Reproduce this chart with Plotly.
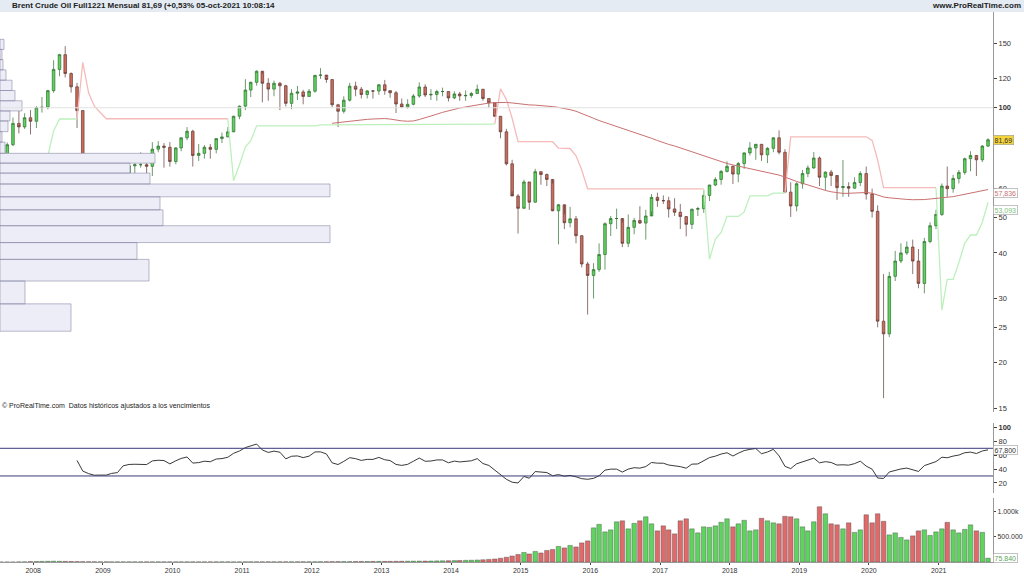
import plotly.graph_objects as go
import pandas as pd
import numpy as np

start = "2007-08-01"
first_open = 76.0
closes = [72.7, 79.2, 90.6, 88.6, 93.9,
 91.8, 100.1, 100.3, 111.4, 127.4, 139.8, 124.1, 114.1, 98.2, 65.3, 53.5, 45.6,
 45.9, 45.7, 49.2, 50.8, 65.9, 69.3, 69.8, 69.8, 69.1, 77.0, 78.5, 77.9,
 71.2, 77.6, 82.7, 86.2, 74.0, 75.0, 77.9, 76.9, 82.3, 83.2, 85.9, 94.8,
 101.0, 111.8, 117.4, 125.9, 116.7, 112.5, 116.7, 114.9, 102.8, 109.6, 110.5, 107.4,
 111.0, 122.7, 122.9, 119.5, 101.9, 97.8, 104.9, 114.6, 112.4, 108.7, 111.2, 111.1,
 115.6, 111.4, 109.9, 102.4, 100.4, 102.2, 107.7, 114.0, 108.4, 108.8, 110.8, 110.8,
 106.4, 109.1, 107.8, 108.1, 109.4, 112.4, 106.0, 103.2, 94.7, 85.9, 70.2, 57.3,
 53.0, 62.6, 55.1, 66.8, 65.6, 63.6, 52.2, 54.2, 48.4, 49.6, 44.6, 37.3,
 34.7, 36.0, 39.6, 48.1, 49.7, 49.7, 42.5, 47.0, 49.1, 48.3, 50.5, 56.8,
 55.7, 55.6, 52.8, 51.7, 50.3, 47.9, 52.7, 52.9, 57.5, 61.4, 63.6, 66.9,
 69.1, 65.8, 70.3, 75.2, 77.6, 79.4, 74.3, 77.4, 82.7, 75.5, 58.7, 53.8,
 61.9, 66.0, 68.4, 72.8, 64.5, 66.6, 65.2, 60.4, 60.8, 60.2, 62.4, 66.0,
 58.0, 52.0, 26.0, 24.0, 34.5, 38.0, 40.0, 41.5, 38.0, 33.0, 43.0, 47.5,
 51.0, 61.0, 60.0, 64.0, 66.5, 72.5, 74.0, 72.0, 78.5, 81.69]
highs = [75.5, 80.3, 94.0, 98.6, 96.6,
 98.5, 101.0, 107.0, 112.0, 135.0, 140.5, 147.5, 125.0, 117.0, 98.5, 64.5, 56.5,
 50.0, 48.0, 54.0, 54.5, 66.5, 73.5, 72.5, 75.5, 72.5, 80.5, 81.0, 80.0,
 80.5, 78.0, 83.0, 88.5, 87.0, 79.5, 79.0, 79.5, 82.5, 85.5, 88.5, 95.0,
 101.5, 119.8, 117.9, 126.7, 123.9, 120.5, 118.7, 117.7, 115.6, 112.4, 114.8, 112.0,
 112.5, 123.0, 128.4, 121.5, 119.5, 102.5, 107.5, 117.0, 117.9, 114.0, 111.8, 111.8,
 116.0, 119.2, 111.0, 111.2, 106.0, 105.5, 109.0, 117.3, 116.0, 112.5, 112.0, 113.5,
 110.5, 111.0, 110.5, 111.5, 110.5, 115.7, 112.5, 106.0, 103.0, 95.0, 87.5, 72.0,
 58.0, 63.5, 62.5, 68.0, 67.0, 66.0, 62.0, 54.5, 51.0, 53.5, 50.5, 44.5,
 37.8, 37.5, 42.5, 48.5, 50.5, 52.9, 48.5, 51.0, 49.9, 53.7, 52.5, 58.0,
 58.5, 57.5, 57.0, 56.5, 54.5, 50.5, 52.9, 53.5, 59.5, 61.5, 64.5, 67.5,
 71.3, 69.5, 71.0, 75.5, 80.5, 79.5, 79.5, 78.0, 83.0, 86.7, 77.0, 62.5,
 62.5, 67.5, 69.5, 75.6, 73.5, 66.9, 67.5, 62.5, 71.9, 62.5, 64.5, 67.0,
 69.0, 60.0, 54.0, 35.0, 35.5, 40.5, 42.5, 43.0, 43.5, 41.0, 44.0, 48.5,
 52.5, 62.0, 69.0, 65.5, 67.5, 73.0, 76.0, 73.5, 79.0, 82.5]
lows = [67.0, 70.5, 78.5, 85.0, 87.5,
 84.5, 88.0, 97.0, 99.0, 110.0, 122.0, 121.0, 110.0, 88.0, 60.0, 47.0, 36.2,
 39.5, 39.0, 40.0, 47.5, 50.0, 64.5, 62.5, 68.5, 65.5, 65.0, 75.5, 68.5,
 69.0, 70.0, 76.0, 81.5, 69.0, 71.5, 72.5, 72.5, 75.0, 80.0, 83.0, 86.5,
 93.0, 98.5, 107.0, 115.0, 103.5, 104.5, 107.5, 98.5, 100.8, 99.0, 105.0, 102.2,
 107.5, 110.0, 120.0, 117.0, 100.5, 88.5, 96.5, 104.0, 107.5, 106.0, 106.0, 106.0,
 108.5, 108.5, 106.5, 96.7, 100.0, 99.5, 101.5, 106.5, 107.0, 105.0, 104.5, 107.5,
 104.0, 105.5, 104.5, 104.5, 106.5, 109.0, 104.5, 100.0, 94.5, 82.5, 69.5, 59.0,
 45.2, 53.5, 52.5, 55.0, 61.5, 61.0, 52.0, 42.2, 46.5, 47.0, 42.5, 36.5,
 27.1, 30.0, 35.5, 36.0, 44.5, 46.5, 41.5, 41.5, 45.0, 48.0, 43.5, 52.0,
 53.5, 54.5, 50.0, 50.5, 46.5, 44.4, 46.5, 50.5, 51.5, 55.5, 61.0, 61.5,
 66.5, 61.8, 62.5, 68.0, 74.0, 72.0, 71.5, 70.5, 75.5, 74.5, 58.5, 50.2,
 52.0, 60.0, 64.5, 68.0, 61.0, 59.5, 61.0, 55.9, 57.0, 57.0, 60.0, 61.0,
 56.0, 50.0, 25.0, 16.0, 23.5, 33.5, 37.5, 39.5, 35.0, 32.0, 31.0, 42.5,
 46.5, 50.5, 57.0, 58.5, 62.0, 65.5, 67.0, 65.0, 71.0, 78.0]
volumes_k = [0, 0, 0, 2, 3,
 8, 10, 12, 14, 16, 14, 12, 10, 8, 6, 5, 5,
 4, 4, 3, 3, 3, 3, 3, 3, 3, 3, 3, 3,
 3, 3, 3, 3, 3, 3, 3, 3, 3, 3, 3, 3,
 3, 4, 4, 4, 4, 4, 4, 4, 4, 4, 5, 5,
 5, 5, 6, 6, 7, 7, 8, 8, 9, 10, 10, 11,
 12, 12, 13, 14, 15, 16, 17, 18, 19, 20, 22, 24,
 26, 28, 30, 33, 36, 40, 45, 52, 60, 75, 95, 120,
 150, 190, 160, 210, 180, 230, 250, 310, 280, 330, 300, 380,
 420, 680, 750, 600, 640, 800, 820, 660, 770, 820, 900, 760,
 620, 720, 640, 560, 820, 860, 660, 580, 700, 690, 720, 790,
 860, 700, 760, 830, 620, 640, 870, 820, 780, 760, 910, 900,
 860, 700, 620, 800, 1100, 960, 760, 740, 660, 780, 590, 640,
 940, 780, 960, 810, 540, 580, 490, 440, 520, 620, 640, 530,
 600, 660, 790, 640, 580, 650, 740, 620, 590, 76]
prof_lo = [24.4, 29.0, 33.5, 38.4, 42.7, 47.5, 52.5, 57.0, 61.8, 66.2, 70.5,
           75.0, 80.5, 86.0, 92.0, 98.0, 104.5, 111.5, 119.0, 127.0, 135.5, 144.5]
prof_hi = [29.0, 33.5, 38.4, 42.7, 47.5, 52.5, 57.0, 61.8, 66.2, 70.5, 75.0,
           80.5, 86.0, 92.0, 98.0, 104.5, 111.5, 119.0, 127.0, 135.5, 144.5, 154.0]
prof_w = [71, 25, 149, 137, 330, 163, 160, 330, 150, 130, 155,
          5, 2, 8, 10, 22, 15, 12, 6, 3, 2, 4]
years = list(range(2008, 2022))
last_labels = ["81,69", "57,836", "53,093", "67,800", "75.840"]
last_values = [81.69, 57.836, 53.093, 67.8, 75840]

dates = pd.date_range(start, periods=len(closes), freq="MS")
c = np.array(closes); h = np.array(highs); l = np.array(lows)
o = np.concatenate([[first_open], c[:-1]])
up = c >= o

tr = np.maximum(h - l, np.maximum(abs(h - np.roll(c, 1)), abs(l - np.roll(c, 1)))); tr[0] = h[0]-l[0]
atr = np.zeros(len(c)); atr[0] = tr[0]
for i in range(1, len(c)):
    atr[i] = (atr[i-1]*9 + tr[i]) / 10
hl2 = (h + l) / 2
ub = hl2 + 3.0*atr; lb = hl2 - 3.0*atr
fu = ub.copy(); fl = lb.copy(); trend = np.ones(len(c))
for i in range(1, len(c)):
    fu[i] = ub[i] if (ub[i] < fu[i-1] or c[i-1] > fu[i-1]) else fu[i-1]
    fl[i] = lb[i] if (lb[i] > fl[i-1] or c[i-1] < fl[i-1]) else fl[i-1]
    if trend[i-1] == 1 and c[i] < fl[i]: trend[i] = -1
    elif trend[i-1] == -1 and c[i] > fu[i]: trend[i] = 1
    else: trend[i] = trend[i-1]
st = np.where(trend == 1, fl, fu)
stu = [st[i] if (trend[i] == -1 or (i+1 < len(c) and trend[i+1] == -1)) else None for i in range(len(c))]
stl = [st[i] if (trend[i] == 1 or (i+1 < len(c) and trend[i+1] == 1)) else None for i in range(len(c))]

sma = pd.Series(c).rolling(58).mean()
d = np.diff(c, prepend=c[0]); g = np.clip(d, 0, None); ls = np.clip(-d, 0, None)
ag = pd.Series(g).ewm(alpha=1/14, adjust=False).mean(); al = pd.Series(ls).ewm(alpha=1/14, adjust=False).mean()
rsi = (100 - 100/(1 + ag/al)).values; rsi[:13] = np.nan

fig = go.Figure()
px, py = [], []
for lo_, hi_, w in zip(prof_lo, prof_hi, prof_w):
    px += [0, w, w, 0, 0, None]; py += [lo_, lo_, hi_, hi_, lo_, None]
fig.add_trace(go.Scatter(x=px, y=py, xaxis="x4", yaxis="y", fill="toself", fillcolor="#ededf7",
                         line=dict(color="#8a8aa8", width=0.6), mode="lines", hoverinfo="skip"))
fig.add_trace(go.Scatter(x=dates, y=stu, mode="lines", line=dict(color="#f6baba", width=1.3)))
fig.add_trace(go.Scatter(x=dates, y=stl, mode="lines", line=dict(color="#bdf0bd", width=1.3)))
fig.add_trace(go.Scatter(x=dates, y=sma, mode="lines", line=dict(color="#c97070", width=1)))
fig.add_trace(go.Candlestick(x=dates, open=o, high=h, low=l, close=c, whiskerwidth=0,
    increasing=dict(fillcolor="#5ed35e", line=dict(color="#2e6e2e", width=0.7)),
    decreasing=dict(fillcolor="#cf6b5c", line=dict(color="#5e3a34", width=0.7))))
fig.add_trace(go.Scatter(x=dates, y=rsi, mode="lines", line=dict(color="#222", width=0.9), xaxis="x", yaxis="y2"))
vc = ["#5ed35e" if u else "#e06a6a" for u in up]
fig.add_trace(go.Bar(x=dates, y=np.array(volumes_k)*1000, marker=dict(color=vc, line=dict(color="#4a4a4a", width=0.4)),
                     xaxis="x", yaxis="y3"))

fig.add_hline(y=70, line=dict(color="#3a3a7a", width=1), yref="y2")
fig.add_hline(y=30, line=dict(color="#3a3a7a", width=1), yref="y2")
fig.add_hline(y=100, line=dict(color="#e2e2e2", width=1), yref="y")

fnt = dict(family="Liberation Sans, Arial", size=8, color="#333")
ax = dict(showgrid=False, showline=True, linecolor="#999", ticks="outside", ticklen=3, automargin=False,
          tickfont=dict(size=7.5))
axx = dict(ax); axx["ticklen"] = 2; axx["tickfont"] = dict(size=7)
axv = dict(ax); axv["ticklen"] = 2; axv["tickfont"] = dict(size=7)
fig.update_layout(
    width=1024, height=576, margin=dict(l=0, r=31, t=12, b=14, autoexpand=False),
    paper_bgcolor="white", plot_bgcolor="white", showlegend=False, bargap=0.15,
    font=fnt,
    xaxis=dict(domain=[0, 1], range=["2007-07-25", "2021-10-27"], rangeslider=dict(visible=False),
               tickvals=[f"{y}-01-15" for y in years], ticktext=[str(y) for y in years],
               anchor="y3", **axx),
    xaxis4=dict(domain=[0, 1], range=[0, 993], overlaying="x", visible=False, anchor="y"),
    yaxis=dict(domain=[0.2736, 1], type="log", range=[np.log10(14.7), np.log10(183)], side="right",
               tickvals=[15, 20, 25, 30, 40, 50, 60, 100, 120, 150],
               ticktext=["15", "20", "25", "30", "40", "50", "60", "<b>100</b>", "120", "150"], **ax),
    yaxis2=dict(domain=[0.125, 0.252], range=[5, 106], side="right", anchor="x",
                tickvals=[20, 40, 60, 80, 100], ticktext=["20", "40", "60", "80", "<b>100</b>"], **ax),
    yaxis3=dict(domain=[0, 0.116], range=[0, 1.27e6], side="right", anchor="x",
                tickvals=[500000, 1000000], ticktext=["500.000", "1.000k"], **axv),
)
fig.add_shape(type="rect", xref="paper", yref="paper", x0=-0.01, x1=1.04, y0=1.0, y1=1.03,
              fillcolor="#e4ebf2", line=dict(width=0), layer="below")
fig.add_annotation(xref="paper", yref="paper", x=0.01, y=1.0, yanchor="bottom", xanchor="left", showarrow=False,
                   text="<b>Brent Crude Oil Full1221 Mensual 81,69 (+0,53% 05-oct-2021 10:08:14</b>", font=dict(size=8, color="#222"))
fig.add_annotation(xref="paper", yref="paper", x=1.03, y=1.0, yanchor="bottom", xanchor="right", showarrow=False,
                   text="<b>www.ProRealTime.com</b>", font=dict(size=8, color="#222"))
fig.add_annotation(xref="paper", yref="paper", x=0.0, y=0.2736, yanchor="bottom", xanchor="left", showarrow=False,
                   text="© ProRealTime.com  Datos históricos ajustados a los vencimientos", font=dict(size=7, color="#222"))
def tag(yref, yv, txt, col, bg, dy=0):
    fig.add_annotation(xref="paper", yref=yref, x=1.0, y=yv, xanchor="left", showarrow=False, text=txt, yshift=dy,
                       font=dict(size=7, color=col), bgcolor=bg, bordercolor="#999", borderwidth=0.6, borderpad=1)
tag("y", np.log10(last_values[0]), last_labels[0], "#333", "#f5d33b")
tag("y", np.log10(last_values[1]), last_labels[1], "#c97070", "white", 2)
tag("y", np.log10(last_values[2]), last_labels[2], "#7cbf7c", "white", -2)
tag("y2", last_values[3], last_labels[3], "#333", "white")
tag("y3", last_values[4], last_labels[4], "#5aa55a", "white")
fig.write_html("out.html", config={"displayModeBar": False},
               post_script="document.body.style.margin='0';document.body.style.overflow='hidden';")
